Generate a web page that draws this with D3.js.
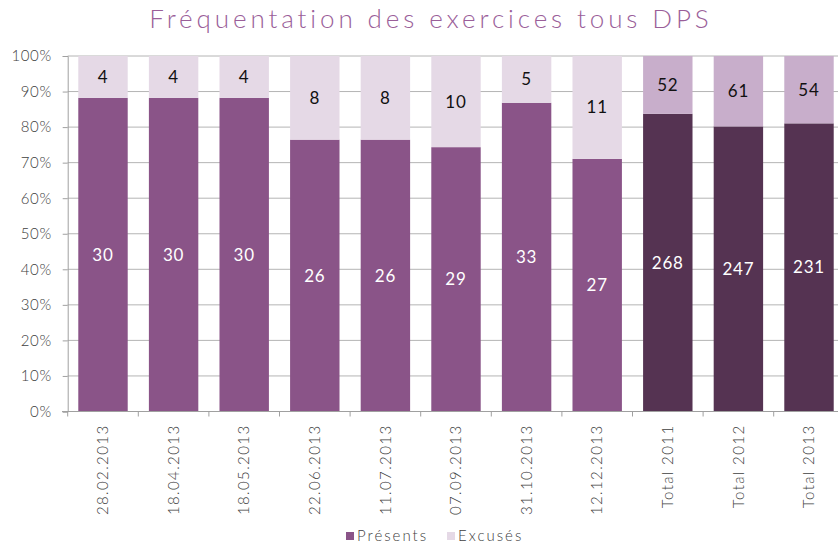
<!DOCTYPE html>
<html>
<head>
<meta charset="utf-8">
<script src="https://cdn.jsdelivr.net/npm/d3@7"></script>
<style>
  body { margin: 0; background: #fff; }
  svg { display: block; font-family: "Lato", "Open Sans", sans-serif; }
</style>
</head>
<body>
<div id="chart"></div>
<script>
// Data
var categories = ["28.02.2013", "18.04.2013", "18.05.2013", "22.06.2013", "11.07.2013",
    "07.09.2013", "31.10.2013", "12.12.2013", "Total 2011", "Total 2012", "Total 2013"];
var presents = [30, 30, 30, 26, 26, 29, 33, 27, 268, 247, 231];
var excuses = [4, 4, 4, 8, 8, 10, 5, 11, 52, 61, 54];
var yTicks = [0, 0.1, 0.2, 0.3, 0.4, 0.5, 0.6, 0.7, 0.8, 0.9, 1];

var width = 838, height = 546;
var colors = {
    presents: "#8a5488", excuses: "#e5d9e6",
    presentsTotal: "#553352", excusesTotal: "#c8aecb"
};

var svg = d3.select("#chart").append("svg")
    .attr("width", width).attr("height", height);

// The plot runs past the right edge of the picture, like the original
var x = d3.scaleBand()
    .domain(categories)
    .range([67.7, 67.7 + 70.6 * categories.length])
    .paddingInner(0.3)
    .paddingOuter(0.15);

var y = d3.scaleLinear().domain([0, 1]).range([411.5, 56]);

function isTotal(c) { return c.indexOf("Total") === 0; }

var rows = categories.map(function(c, i) {
    var tot = presents[i] + excuses[i];
    return { cat: c, p: presents[i], e: excuses[i], pf: presents[i] / tot };
});

// Title
svg.append("text")
    .attr("x", 431).attr("y", 28)
    .attr("text-anchor", "middle")
    .attr("fill", "#9a5e99")
    .style("font-size", "26px")
    .style("font-weight", "300")
    .style("letter-spacing", "3.9px")
    .text("Fréquentation des exercices tous DPS");

// Gridlines
svg.append("g").selectAll("line")
    .data(yTicks.slice(1))
    .join("line")
    .attr("x1", 67.7).attr("x2", width)
    .attr("y1", function(d) { return y(d); })
    .attr("y2", function(d) { return y(d); })
    .attr("stroke", "#b4b4b4").attr("stroke-width", 1);

// Y axis
var yAxis = svg.append("g")
    .attr("transform", "translate(67.7,0)")
    .call(d3.axisLeft(y).tickValues(yTicks).tickFormat(d3.format(".0%")).tickSize(5).tickPadding(11));
yAxis.select(".domain").attr("stroke", "#a0a0a0");
yAxis.selectAll(".tick line").attr("stroke", "#a0a0a0");
yAxis.selectAll("text")
    .attr("fill", "#404040")
    .style("font-size", "15px")
    .style("font-weight", "300")
    .style("letter-spacing", "0.6px")
    .style("font-family", "Lato, sans-serif");

// Bars
var groups = svg.append("g").selectAll("g")
    .data(rows)
    .join("g");

groups.append("rect")
    .attr("x", function(d) { return x(d.cat); })
    .attr("width", x.bandwidth())
    .attr("y", function(d) { return y(d.pf); })
    .attr("height", function(d) { return y(0) - y(d.pf); })
    .attr("fill", function(d) { return isTotal(d.cat) ? colors.presentsTotal : colors.presents; });

groups.append("rect")
    .attr("x", function(d) { return x(d.cat); })
    .attr("width", x.bandwidth())
    .attr("y", y(1))
    .attr("height", function(d) { return y(d.pf) - y(1); })
    .attr("fill", function(d) { return isTotal(d.cat) ? colors.excusesTotal : colors.excuses; });

// Value labels
groups.append("text")
    .attr("x", function(d) { return x(d.cat) + x.bandwidth() / 2; })
    .attr("y", function(d) { return y(d.pf / 2); })
    .attr("dy", "0.35em")
    .attr("text-anchor", "middle")
    .attr("fill", "#fff")
    .style("font-size", "17px")
    .style("letter-spacing", "0.8px")
    .text(function(d) { return d.p; });

groups.append("text")
    .attr("x", function(d) { return x(d.cat) + x.bandwidth() / 2; })
    .attr("y", function(d) { return y((1 + d.pf) / 2); })
    .attr("dy", "0.35em")
    .attr("text-anchor", "middle")
    .attr("fill", "#111")
    .style("font-size", "17px")
    .style("letter-spacing", "0.8px")
    .text(function(d) { return d.e; });

// X axis
var xAxis = svg.append("g")
    .attr("transform", "translate(0," + y(0) + ")");
xAxis.append("line")
    .attr("x1", 62).attr("x2", width)
    .attr("stroke", "#a0a0a0");
xAxis.selectAll("line.tick")
    .data(d3.range(categories.length + 1))
    .join("line")
    .attr("class", "tick")
    .attr("x1", function(i) { return 67.7 + x.step() * i; })
    .attr("x2", function(i) { return 67.7 + x.step() * i; })
    .attr("y1", 0).attr("y2", 5)
    .attr("stroke", "#a0a0a0");
xAxis.selectAll("text")
    .data(categories)
    .join("text")
    .attr("transform", function(d) {
        return "translate(" + (x(d) + x.bandwidth() / 2) + ",13) rotate(-90)";
    })
    .attr("text-anchor", "end")
    .attr("dy", "0.35em")
    .attr("fill", "#404040")
    .style("font-size", "15px")
    .style("font-weight", "300")
    .style("letter-spacing", "1.4px")
    .text(function(d) { return d; });

// Legend
var legend = [
    { name: "Présents", color: colors.presents, x: 346 },
    { name: "Excusés", color: colors.excuses, x: 447 }
];
var lg = svg.append("g").selectAll("g")
    .data(legend)
    .join("g")
    .attr("transform", function(d) { return "translate(" + d.x + ",532)"; });
lg.append("rect")
    .attr("width", 8).attr("height", 8)
    .attr("fill", function(d) { return d.color; });
lg.append("text")
    .attr("x", 11).attr("y", 4)
    .attr("dy", "0.35em")
    .attr("fill", "#404040")
    .style("font-size", "15px")
    .style("font-weight", "300")
    .style("letter-spacing", "2px")
    .text(function(d) { return d.name; });
</script>
</body>
</html>
